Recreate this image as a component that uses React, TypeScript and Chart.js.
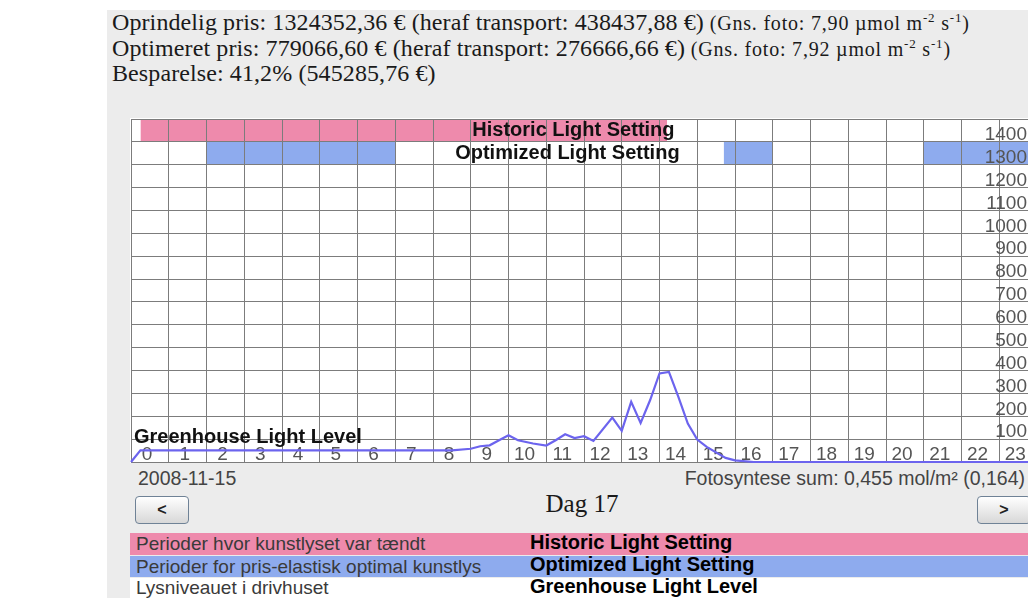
import React, { useEffect, useRef } from 'react';
import { Chart, registerables } from 'chart.js';

Chart.register(...registerables);

// ---------- data ----------
const hourLabels = ['0', '1', '2', '3', '4', '5', '6', '7', '8', '9', '10', '11', '12', '13', '14', '15', '16', '17', '18', '19', '20', '21', '22', '23'];
const yTickLabels = ['100', '200', '300', '400', '500', '600', '700', '800', '900', '1000', '1100', '1200', '1300', '1400'];

// Greenhouse light level (time in hours, value in µmol)
const lightHours = [0, 0.25, 8.5, 9, 9.25, 9.5, 9.75, 10, 10.25, 10.65, 11, 11.25, 11.5, 11.75, 12, 12.25, 12.75, 13, 13.25, 13.5, 13.75, 14, 14.25, 14.5, 14.75, 15, 15.25, 15.75, 16, 16.5, 24];
const lightValues = [0, 51, 51, 58, 69, 73, 95, 117, 95, 81, 72, 95, 121, 105, 113, 92, 194, 136, 263, 171, 270, 387, 394, 285, 168, 98, 66, 18, 7, 0, 0];

// Historic light setting periods (hours)
const historicStarts = [0.25];
const historicEnds = [14.2];
// Optimized light setting periods (hours)
const optimizedStarts = [2, 15.7, 21];
const optimizedEnds = [7, 17, 24];

const seriesNames = ['Historic Light Setting', 'Optimized Light Setting', 'Greenhouse Light Level'];
const seriesDescriptions = ['Perioder hvor kunstlyset var tændt', 'Perioder for pris-elastisk optimal kunstlys', 'Lysniveauet i drivhuset'];

const summaryMain = ['Oprindelig pris: 1324352,36 € (heraf transport: 438437,88 €)', 'Optimeret pris: 779066,60 € (heraf transport: 276666,66 €)', 'Besparelse: 41,2% (545285,76 €)'];
const summaryFoto = ['7,90', '7,92', ''];

const dateLabel = '2008-11-15';
const fotoSumLabel = 'Fotosyntese sum: 0,455 mol/m² (0,164)';
const dayLabel = 'Dag 17';

const PINK = '#ee8aac';
const BLUE = '#8eabee';
const LINE = '#6c64ee';
const GRID = '#7c7c7c';
const SANS = '"Liberation Sans", Arial, sans-serif';
const SERIF = '"Liberation Serif", "Times New Roman", serif';

const historicRowTop = 1500;
const historicRowBottom = 1400;
const optimizedRowTop = 1400;
const optimizedRowBottom = 1300;
const historicLabelHour = 11.72;
const optimizedLabelHour = 11.56;
const lightLabelValue = 108;

const textPlugin = {
  id: 'seriesText',
  afterDatasetsDraw(chart: any) {
    const { ctx, chartArea } = chart;
    const x = chart.scales.x;
    const y = chart.scales.y;
    ctx.save();
    ctx.font = `bold 20px ${SANS}`;
    ctx.fillStyle = '#111';
    ctx.textBaseline = 'middle';
    ctx.textAlign = 'center';
    ctx.fillText(seriesNames[0], x.getPixelForValue(historicLabelHour), y.getPixelForValue((historicRowTop + historicRowBottom) / 2));
    ctx.fillText(seriesNames[1], x.getPixelForValue(optimizedLabelHour), y.getPixelForValue((optimizedRowTop + optimizedRowBottom) / 2));
    ctx.textAlign = 'left';
    ctx.fillText(seriesNames[2], chartArea.left + 3, y.getPixelForValue(lightLabelValue));
    ctx.restore();
  },
};

function zeroFit(scale: any) {
  if (scale.isHorizontal()) scale.height = 0;
  else scale.width = 0;
  scale.paddingLeft = 0;
  scale.paddingRight = 0;
  scale.paddingTop = 0;
  scale.paddingBottom = 0;
}

function LightChart() {
  const ref = useRef<HTMLCanvasElement | null>(null);
  useEffect(() => {
    if (!ref.current) return;
    const bandSets: any[] = [];
    historicStarts.forEach((s, i) => {
      bandSets.push({
        label: seriesNames[0],
        data: [{ x: s, y: historicRowTop }, { x: historicEnds[i], y: historicRowTop }],
        borderColor: 'rgba(0,0,0,0)',
        backgroundColor: PINK,
        pointRadius: 0,
        fill: { value: historicRowBottom },
      });
    });
    optimizedStarts.forEach((s, i) => {
      bandSets.push({
        label: seriesNames[1],
        data: [{ x: s, y: optimizedRowTop }, { x: optimizedEnds[i], y: optimizedRowTop }],
        borderColor: 'rgba(0,0,0,0)',
        backgroundColor: BLUE,
        pointRadius: 0,
        fill: { value: optimizedRowBottom },
      });
    });
    const chart = new Chart(ref.current, {
      type: 'line',
      data: {
        datasets: [
          {
            label: seriesNames[2],
            data: lightHours.map((h, i) => ({ x: h, y: lightValues[i] })),
            borderColor: LINE,
            borderWidth: 2.2,
            pointRadius: 0,
            tension: 0,
            fill: false,
            clip: 4,
          } as any,
          ...bandSets,
        ],
      },
      options: {
        responsive: false,
        maintainAspectRatio: false,
        animation: false,
        devicePixelRatio: 1,
        layout: { padding: { left: 1, top: 1, right: 0, bottom: 1 } },
        plugins: {
          legend: { display: false },
          tooltip: { enabled: false },
          filler: { propagate: false, drawTime: 'beforeDraw' } as any,
        },
        scales: {
          x: {
            type: 'linear',
            position: 'bottom',
            min: 0,
            max: 24,
            afterFit: zeroFit,
            grid: { color: GRID, lineWidth: 1, drawTicks: false },
            border: { display: true, color: GRID },
            ticks: {
              stepSize: 1,
              autoSkip: false,
              maxRotation: 0,
              minRotation: 0,
              mirror: true,
              padding: -4,
              labelOffset: 16,
              color: '#555',
              font: { family: SANS, size: 19 },
              callback: (_v: any, i: number) => hourLabels[i] ?? '',
            },
          },
          y: {
            type: 'linear',
            position: 'right',
            min: 0,
            max: 1500,
            afterFit: zeroFit,
            grid: { color: GRID, lineWidth: 1, drawTicks: false },
            border: { display: true, color: GRID },
            ticks: {
              stepSize: 100,
              autoSkip: false,
              mirror: true,
              padding: -10,
              labelOffset: -7,
              color: '#555',
              font: { family: SANS, size: 19 },
              callback: (v: any) => (yTickLabels.includes(String(v)) ? String(v) : ''),
            },
          },
        },
      },
      plugins: [textPlugin],
    });
    return () => chart.destroy();
  }, []);
  return <canvas ref={ref} width={907} height={345} style={{ display: 'block', width: 907, height: 345 }} />;
}

const smallStyle: React.CSSProperties = { fontSize: 20, letterSpacing: '0.8px' };
const supStyle: React.CSSProperties = { fontSize: 13, verticalAlign: 'super', lineHeight: 0 };

function Foto({ v }: { v: string }) {
  if (!v) return null;
  return (
    <span style={smallStyle}>
      {' '}(Gns. foto: {v} µmol m<span style={supStyle}>-2</span> s<span style={supStyle}>-1</span>)
    </span>
  );
}

const btnStyle: React.CSSProperties = {
  position: 'absolute',
  top: 496,
  width: 52,
  height: 26,
  border: '1px solid #6f8296',
  borderRadius: 4,
  background: 'linear-gradient(#ffffff, #d8d8d8)',
  fontFamily: SANS,
  fontWeight: 'bold',
  fontSize: 16,
  lineHeight: '26px',
  textAlign: 'center',
  color: '#222',
  boxSizing: 'content-box',
};

function LegendRow({ top, height, bg, desc, name }: { top: number; height: number; bg: string; desc: string; name: string }) {
  return (
    <div style={{ position: 'absolute', left: 130, right: 0, top, height, background: bg, overflow: 'hidden' }}>
      <span style={{ position: 'absolute', left: 6, top: 0, fontFamily: SANS, fontSize: 19, lineHeight: `${height}px`, color: '#3a3a3a', whiteSpace: 'nowrap' }}>{desc}</span>
      <span style={{ position: 'absolute', left: 400, top: -2, fontFamily: SANS, fontWeight: 'bold', fontSize: 20, lineHeight: `${height}px`, color: '#000', whiteSpace: 'nowrap' }}>{name}</span>
    </div>
  );
}

export default function App() {
  return (
    <div style={{ position: 'absolute', left: 0, top: 0, width: 1028, height: 598, overflow: 'hidden', background: '#fff' }}>
      <div style={{ position: 'absolute', left: 107, top: 10, right: 0, bottom: 0, background: '#ececec' }} />
      <div style={{ position: 'absolute', left: 112, top: 10, fontFamily: SERIF, fontSize: 24, letterSpacing: '0.1px', lineHeight: '24.6px', color: '#1a1a1a', whiteSpace: 'nowrap' }}>
        {summaryMain.map((s, i) => (
          <div key={i}>
            {s}
            <Foto v={summaryFoto[i]} />
          </div>
        ))}
      </div>
      <div style={{ position: 'absolute', left: 130, top: 118, width: 907, height: 345, background: '#fff' }}>
        <LightChart />
      </div>
      <div style={{ position: 'absolute', left: 138, top: 468, fontFamily: SANS, fontSize: 19.5, lineHeight: '20px', color: '#444' }}>{dateLabel}</div>
      <div style={{ position: 'absolute', right: 3, top: 468, fontFamily: SANS, fontSize: 19.5, lineHeight: '20px', color: '#444', whiteSpace: 'nowrap' }}>{fotoSumLabel}</div>
      <div style={{ ...btnStyle, left: 135 }}>&lt;</div>
      <div style={{ ...btnStyle, left: 977 }}>&gt;</div>
      <div style={{ position: 'absolute', left: 482, width: 200, top: 492, textAlign: 'center', fontFamily: SERIF, fontSize: 25, lineHeight: '24px', color: '#1a1a1a' }}>{dayLabel}</div>
      <LegendRow top={533} height={22} bg={PINK} desc={seriesDescriptions[0]} name={seriesNames[0]} />
      <LegendRow top={556} height={21} bg={BLUE} desc={seriesDescriptions[1]} name={seriesNames[1]} />
      <LegendRow top={578} height={20} bg={'#fff'} desc={seriesDescriptions[2]} name={seriesNames[2]} />
    </div>
  );
}
